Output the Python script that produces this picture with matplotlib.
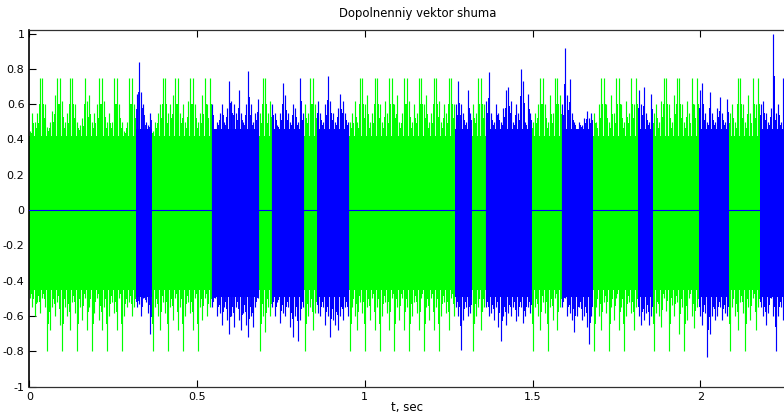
import numpy as np
import matplotlib
matplotlib.use("Agg")
import matplotlib.pyplot as plt

# Segment boundaries of the composite noise vector (seconds) and which source fills each one
t_edges = [0.000, 0.318, 0.366, 0.544, 0.686, 0.723, 0.820, 0.858, 0.954, 1.270,
           1.320, 1.360, 1.499, 1.587, 1.681, 1.815, 1.859, 1.996, 2.086, 2.178, 2.267]
seg_source = ['g', 'b', 'g', 'b', 'g', 'b', 'g', 'b', 'g', 'b',
              'g', 'b', 'g', 'b', 'g', 'b', 'g', 'b', 'g', 'b']

# Dense core amplitude of each source (upper, lower)
core_green = (0.42, -0.45)
core_blue = (0.46, -0.49)

# Positive peaks of each segment, left to right
upper_peaks = [
    [0.45, 0.55, 0.5, 0.55, 0.75, 0.75, 0.6, 0.47, 0.5, 0.56, 0.65, 0.75, 0.75, 0.62, 0.5,
     0.55, 0.75, 0.75, 0.6, 0.5, 0.48, 0.52, 0.75, 0.62, 0.65, 0.5, 0.55, 0.6, 0.75, 0.75,
     0.62, 0.5, 0.55, 0.5, 0.75, 0.75, 0.6, 0.5, 0.45, 0.5, 0.75, 0.75, 0.6],
    [0.66, 0.84, 0.67, 0.6, 0.5, 0.48, 0.55],
    [0.45, 0.5, 0.55, 0.6, 0.75, 0.75, 0.55, 0.6, 0.65, 0.75, 0.75, 0.55, 0.6, 0.5, 0.62,
     0.75, 0.75, 0.6, 0.5, 0.55, 0.65, 0.75, 0.6, 0.75],
    [0.6, 0.45, 0.5, 0.55, 0.6, 0.5, 0.58, 0.73, 0.62, 0.6, 0.55, 0.68, 0.55, 0.5, 0.6,
     0.79, 0.6, 0.5, 0.55, 0.63],
    [0.55, 0.75, 0.75, 0.55, 0.62],
    [0.6, 0.55, 0.48, 0.55, 0.72, 0.65, 0.55, 0.5, 0.6, 0.58, 0.5, 0.75, 0.55],
    [0.6, 0.55, 0.75, 0.75, 0.6],
    [0.62, 0.55, 0.5, 0.6, 0.76, 0.62, 0.55, 0.5, 0.58, 0.66, 0.62, 0.55, 0.5],
    [0.5, 0.55, 0.62, 0.5, 0.75, 0.75, 0.6, 0.65, 0.5, 0.55, 0.75, 0.75, 0.6, 0.5, 0.62,
     0.55, 0.75, 0.75, 0.6, 0.65, 0.5, 0.55, 0.75, 0.75, 0.62, 0.5, 0.6, 0.55, 0.75, 0.75,
     0.6, 0.65, 0.5, 0.55, 0.75, 0.75, 0.62, 0.5, 0.6, 0.55, 0.75, 0.75, 0.6],
    [0.6, 0.73, 0.6, 0.55, 0.5, 0.68, 0.55],
    [0.6, 0.55, 0.75, 0.75, 0.6],
    [0.62, 0.78, 0.55, 0.5, 0.6, 0.55, 0.5, 0.58, 0.68, 0.7, 0.62, 0.5, 0.6, 0.55, 0.8,
     0.73, 0.5, 0.66, 0.55],
    [0.5, 0.55, 0.6, 0.75, 0.75, 0.6, 0.5, 0.65, 0.55, 0.75, 0.75, 0.65],
    [0.6, 0.92, 0.65, 0.74, 0.55, 0.5, 0.45, 0.5, 0.48, 0.52, 0.56, 0.52, 0.55],
    [0.55, 0.5, 0.6, 0.75, 0.75, 0.6, 0.5, 0.65, 0.55, 0.75, 0.75, 0.6, 0.5, 0.62, 0.55,
     0.75, 0.6, 0.75],
    [0.68, 0.6, 0.7, 0.55, 0.5, 0.66],
    [0.55, 0.6, 0.5, 0.62, 0.75, 0.75, 0.6, 0.5, 0.65, 0.75, 0.75, 0.6, 0.5, 0.62, 0.55,
     0.75, 0.6, 0.75],
    [0.68, 0.72, 0.55, 0.5, 0.67, 0.55, 0.5, 0.58, 0.64, 0.55, 0.5, 0.63],
    [0.55, 0.6, 0.5, 0.75, 0.75, 0.6, 0.5, 0.65, 0.55, 0.75, 0.6, 0.75],
    [0.6, 0.62, 0.55, 0.5, 0.58, 1.0, 0.55, 0.6, 0.5, 0.75, 0.55, 0.6],
]

# Negative peaks of each segment, left to right
lower_peaks = [
    [-0.5, -0.55, -0.6, -0.52, -0.58, -0.5, -0.55, -0.8, -0.68, -0.55, -0.6, -0.52, -0.65,
     -0.8, -0.55, -0.6, -0.68, -0.52, -0.58, -0.8, -0.55, -0.62, -0.5, -0.68, -0.55, -0.8,
     -0.58, -0.5, -0.62, -0.68, -0.55, -0.8, -0.6, -0.52, -0.58, -0.68, -0.5, -0.8, -0.6,
     -0.55, -0.52, -0.6, -0.55],
    [-0.55, -0.53, -0.6, -0.5, -0.52, -0.58, -0.7],
    [-0.8, -0.55, -0.6, -0.68, -0.52, -0.58, -0.8, -0.55, -0.62, -0.5, -0.68, -0.55, -0.8,
     -0.6, -0.52, -0.58, -0.68, -0.5, -0.8, -0.55, -0.62, -0.5, -0.6, -0.55],
    [-0.55, -0.5, -0.6, -0.58, -0.65, -0.55, -0.62, -0.7, -0.6, -0.66, -0.55, -0.62, -0.68,
     -0.58, -0.65, -0.72, -0.6, -0.66, -0.55, -0.5],
    [-0.8, -0.6, -0.69, -0.55, -0.6],
    [-0.55, -0.6, -0.52, -0.64, -0.58, -0.6, -0.55, -0.66, -0.72, -0.6, -0.74, -0.62, -0.55],
    [-0.8, -0.6, -0.55, -0.68, -0.58],
    [-0.58, -0.6, -0.55, -0.65, -0.6, -0.72, -0.62, -0.65, -0.68, -0.6, -0.62, -0.55, -0.6],
    [-0.8, -0.55, -0.6, -0.68, -0.52, -0.58, -0.8, -0.55, -0.62, -0.5, -0.68, -0.55, -0.8,
     -0.6, -0.52, -0.58, -0.68, -0.5, -0.8, -0.55, -0.62, -0.5, -0.68, -0.55, -0.8, -0.6,
     -0.52, -0.58, -0.68, -0.5, -0.8, -0.55, -0.62, -0.5, -0.68, -0.55, -0.8, -0.6, -0.52,
     -0.58, -0.68, -0.5, -0.6],
    [-0.55, -0.6, -0.79, -0.62, -0.55, -0.6, -0.58],
    [-0.8, -0.6, -0.55, -0.68, -0.55],
    [-0.55, -0.6, -0.58, -0.62, -0.55, -0.66, -0.74, -0.6, -0.65, -0.58, -0.6, -0.55, -0.63,
     -0.6, -0.55, -0.64, -0.6, -0.55, -0.58],
    [-0.8, -0.55, -0.6, -0.68, -0.52, -0.58, -0.8, -0.55, -0.62, -0.5, -0.68, -0.55],
    [-0.55, -0.5, -0.6, -0.58, -0.62, -0.69, -0.6, -0.55, -0.62, -0.6, -0.66, -0.76, -0.6],
    [-0.8, -0.55, -0.6, -0.68, -0.52, -0.58, -0.8, -0.55, -0.62, -0.5, -0.68, -0.55, -0.8,
     -0.6, -0.52, -0.58, -0.68, -0.55],
    [-0.6, -0.65, -0.62, -0.58, -0.65, -0.6],
    [-0.8, -0.58, -0.6, -0.66, -0.5, -0.57, -0.8, -0.54, -0.6, -0.52, -0.7, -0.55, -0.8,
     -0.62, -0.5, -0.6, -0.67, -0.55],
    [-0.6, -0.65, -0.58, -0.83, -0.7, -0.6, -0.62, -0.6, -0.55, -0.62, -0.58, -0.6],
    [-0.8, -0.55, -0.6, -0.68, -0.52, -0.58, -0.8, -0.55, -0.62, -0.5, -0.68, -0.55],
    [-0.55, -0.6, -0.65, -0.58, -0.5, -0.6, -0.8, -0.6, -0.55, -0.62, -0.58, -0.6],
]

x_ticks = [0, 0.5, 1, 1.5, 2]
x_tick_labels = ['0', '0.5', '1', '1.5', '2']
y_ticks = [-1, -0.8, -0.6, -0.4, -0.2, 0, 0.2, 0.4, 0.6, 0.8, 1]
y_tick_labels = ['-1', '-0.8', '-0.6', '-0.4', '-0.2', '0', '0.2', '0.4', '0.6', '0.8', '1']

colors = {'g': '#00ff00', 'b': '#0000ff'}
layer = {'g': 2, 'b': 4}
BODY_SHARE = 0.55   # closely packed samples merge into a body this far up towards each peak

W, H = 784, 417
PX_PER_SEC = 335.5
fig = plt.figure(figsize=(W / 100, H / 100), dpi=100)
x_max = 2.314
ax = fig.add_axes([29.3 / W, (H - 386.7) / H, (x_max * PX_PER_SEC) / W, 356.7 / H])

for i, src in enumerate(seg_source):
    t0, t1 = t_edges[i], t_edges[i + 1]
    core = core_green if src == 'g' else core_blue
    c = colors[src]
    z = layer[src]
    ax.fill_between([t0, t1], core[1], core[0], color=c, lw=0, zorder=z)
    for vals, base in ((upper_peaks[i], core[0]), (lower_peaks[i], core[1])):
        v = np.asarray(vals)
        n = len(v)
        dt = (t1 - t0) / n
        tt = t0 + (np.arange(n) + 0.5) * dt
        body_w = dt * PX_PER_SEC * 0.72 * 0.8
        body = base + BODY_SHARE * (v - base)
        ax.vlines(tt, 0, body, color=c, lw=body_w, zorder=z)
        ax.vlines(tt - 0.25 * dt, 0, v, color=c, lw=0.85, zorder=z)

# the blue source is silent (zero) wherever the green one plays
ax.plot([t_edges[0], t_edges[-1]], [0, 0], color=colors['b'], lw=0.8, zorder=3)

ax.set_xlim(0, x_max)
ax.set_ylim(-1, 1.02)
ax.set_xticks(x_ticks)
ax.set_xticklabels(x_tick_labels)
ax.set_yticks(y_ticks)
ax.set_yticklabels(y_tick_labels)
ax.tick_params(direction='in', top=True, right=True, length=4.8, width=0.8,
               labelsize=8, pad=3.5, colors='black')
for s in ax.spines.values():
    s.set_linewidth(0.9)
    s.set_color('#303030')
ax.spines['left'].set_color('black')
ax.spines['left'].set_linewidth(1.2)

ax.set_title('Dopolnenniy vektor shuma', fontsize=8.4, pad=9)
ax.set_xlabel('t, sec', fontsize=8.5, labelpad=2)
ax.xaxis.set_label_coords(0.487, -0.04)

fig.savefig('out.png', dpi=100)
